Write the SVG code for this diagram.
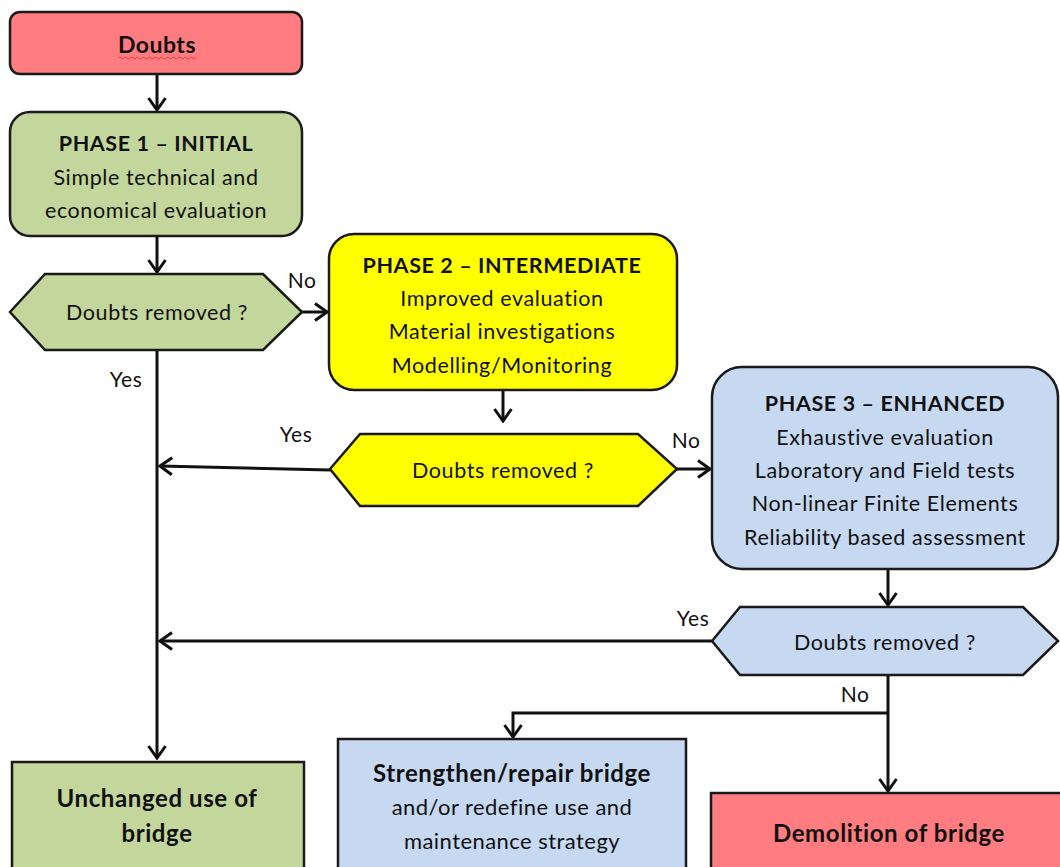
<svg xmlns="http://www.w3.org/2000/svg" width="1060" height="867" viewBox="0 0 1060 867">
<defs>
<style>
.box{stroke:#1a1a1a;stroke-width:2.5}
.red{fill:#FF7C80}.green{fill:#C3D69B}.yellow{fill:#FFFF00}.blue{fill:#C6D9F1}
text{font-family:Lato,"Open Sans","Liberation Sans",sans-serif;fill:#111;text-anchor:middle}
.t{font-size:21.5px;font-weight:bold;letter-spacing:0.6px}
.b{font-size:21.5px;letter-spacing:0.6px}
.bt{font-size:24px;font-weight:bold;letter-spacing:0.6px}
.bb{font-size:22px;letter-spacing:0.45px}
.d{font-size:23px;font-weight:bold;letter-spacing:0.5px}
.l{font-size:21px;letter-spacing:0.5px}
.conn{stroke:#111;stroke-width:3;fill:none}
</style>
<marker id="arr" viewBox="0 0 16 20" refX="14" refY="10" markerWidth="16" markerHeight="20" markerUnits="userSpaceOnUse" orient="auto">
<path d="M2,1.5 L14,10 L2,18.5" fill="none" stroke="#111" stroke-width="3"/>
</marker>
</defs>
<rect width="1060" height="867" fill="#fff"/>

<g id="connectors">
<path class="conn" d="M157,75 V110" marker-end="url(#arr)"/>
<path class="conn" d="M157,237 V272" marker-end="url(#arr)"/>
<path class="conn" d="M302,312 H327" marker-end="url(#arr)"/>
<path class="conn" d="M503,391 V421" marker-end="url(#arr)"/>
<path class="conn" d="M330,470 L160,466" marker-end="url(#arr)"/>
<path class="conn" d="M677,469 H710" marker-end="url(#arr)"/>
<path class="conn" d="M888,570 V605" marker-end="url(#arr)"/>
<path class="conn" d="M712,641 H160" marker-end="url(#arr)"/>
<path class="conn" d="M157,350 V758" marker-end="url(#arr)"/>
<path class="conn" d="M888,675 V791" marker-end="url(#arr)"/>
<path class="conn" d="M888,713 H513 V737" marker-end="url(#arr)"/>
<text class="l" x="302" y="288">No</text>
<text class="l" x="126" y="387">Yes</text>
<text class="l" x="296" y="442">Yes</text>
<text class="l" x="686" y="448">No</text>
<text class="l" x="693" y="626">Yes</text>
<text class="l" x="855" y="702">No</text>
</g>

<g id="doubts">
<rect class="box red" x="10" y="12" width="292" height="62" rx="10"/>
<text class="d" x="157" y="53">Doubts</text>
<path d="M118,58 q1.5,-2 3,0 t3,0 t3,0 t3,0 t3,0 t3,0 t3,0 t3,0 t3,0 t3,0 t3,0 t3,0 t3,0 t3,0 t3,0 t3,0 t3,0 t3,0 t3,0 t3,0 t3,0 t3,0 t3,0 t3,0 t3,0 t3,0" fill="none" stroke="#d03030" stroke-width="0.8"/>
</g>

<g id="phase1">
<rect class="box green" x="10" y="112" width="292" height="124" rx="20"/>
<text class="t" x="156" y="151">PHASE 1 – INITIAL</text>
<text class="b" x="156" y="185">Simple technical and</text>
<text class="b" x="156" y="218">economical evaluation</text>
</g>

<g id="decision1">
<polygon class="box green" points="10,312 45,274 263,274 302,312 263,350 45,350"/>
<text class="b" x="157" y="320">Doubts removed ?</text>
</g>

<g id="phase2">
<rect class="box yellow" x="329" y="234" width="348" height="156" rx="25"/>
<text class="t" x="502" y="273">PHASE 2 – INTERMEDIATE</text>
<text class="b" x="502" y="306">Improved evaluation</text>
<text class="b" x="502" y="339">Material investigations</text>
<text class="b" x="502" y="373">Modelling/Monitoring</text>
</g>

<g id="decision2">
<polygon class="box yellow" points="330,469 360,434 638,434 677,469 638,506 360,506"/>
<text class="b" x="503" y="478">Doubts removed ?</text>
</g>

<g id="phase3">
<rect class="box blue" x="712" y="367" width="346" height="202" rx="30"/>
<text class="t" x="885" y="411">PHASE 3 – ENHANCED</text>
<text class="b" x="885" y="445">Exhaustive evaluation</text>
<text class="b" x="885" y="478">Laboratory and Field tests</text>
<text class="b" x="885" y="511">Non-linear Finite Elements</text>
<text class="b" x="885" y="545">Reliability  based assessment</text>
</g>

<g id="decision3">
<polygon class="box blue" points="712,641 740,607 1023,607 1058,641 1023,675 740,675"/>
<text class="b" x="885" y="650">Doubts removed ?</text>
</g>

<g id="unchanged">
<rect class="box green" x="12" y="762" width="292" height="120"/>
<text class="bt" x="157" y="807">Unchanged use of</text>
<text class="bt" x="157" y="842">bridge</text>
</g>

<g id="strengthen">
<rect class="box blue" x="338" y="739" width="348" height="140"/>
<text class="bt" x="512" y="782">Strengthen/repair bridge</text>
<text class="bb" x="512" y="815">and/or redefine use and</text>
<text class="bb" x="512" y="849">maintenance strategy</text>
</g>

<g id="demolition">
<rect class="box red" x="711" y="793" width="360" height="90"/>
<text class="bt" x="889" y="842">Demolition of bridge</text>
</g>
</svg>
